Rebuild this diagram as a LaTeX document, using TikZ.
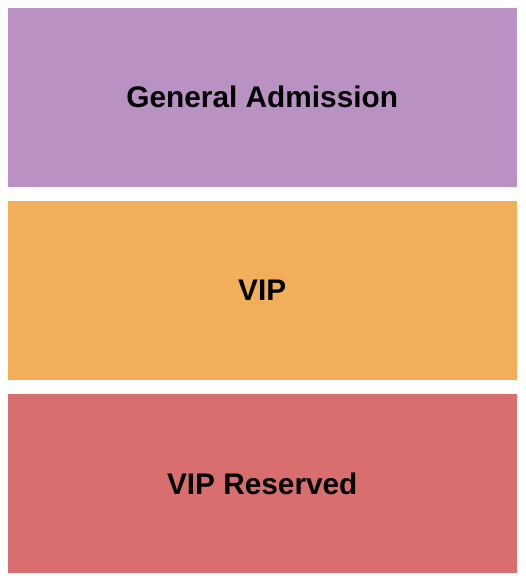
\documentclass[tikz,border=0pt]{standalone}
\usepackage{fontspec}
\setmainfont{Liberation Sans}
\usetikzlibrary{positioning}
\definecolor{gapurple}{RGB}{186,145,195}
\definecolor{viporange}{RGB}{243,174,89}
\definecolor{resred}{RGB}{216,110,110}
\tikzset {
  % seating section block
  section/.style = {
    rectangle,
    minimum width = 508.5pt,
    minimum height = 178.5pt,
    inner sep = 0,
    font = \fontsize{29.8pt}{34pt}\selectfont\bfseries
  },
  ga/.style = {
    section,
    fill = gapurple
  },
  vip/.style = {
    section,
    fill = viporange
  },
  reserved/.style = {
    section,
    fill = resred
  },
  node distance = 14.25pt
}
\begin{document}
\begin{tikzpicture}[x=1pt, y=-1pt]
    \useasboundingbox (0,0) rectangle (525,580);
    \node[ga] (general) at (262.25,97.25) {General Admission};
    \node[vip] (vip) [below=of general] {VIP};
    \node[reserved] (vipres) [below=of vip] {VIP Reserved};
  \end{tikzpicture}
\end{document}
